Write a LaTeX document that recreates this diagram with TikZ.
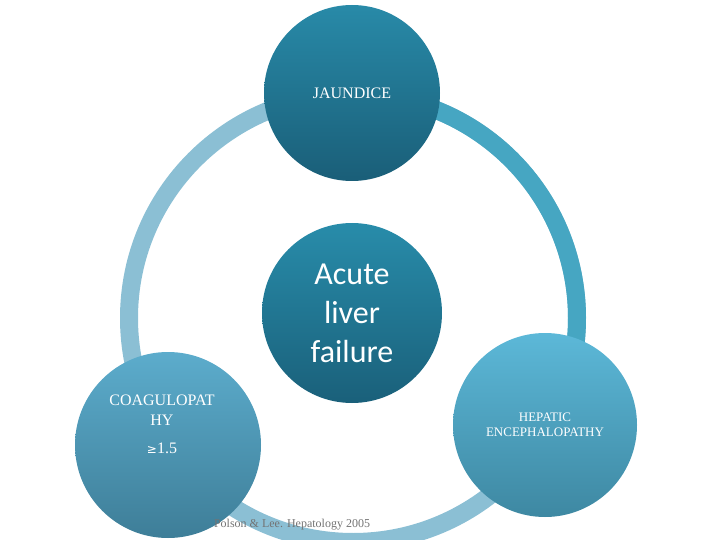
\documentclass[tikz,border=0pt]{standalone}
\usepackage{fontspec}
\setmainfont{Liberation Serif}
\newfontfamily\sansf{Carlito}
\newfontfamily\symf{DejaVu Sans}
\definecolor{ringl}{HTML}{8BBFD4}
\definecolor{ringt}{HTML}{46A6C2}
\begin{document}
\begin{tikzpicture}[x=1pt,y=-1pt,
  bub/.style={circle,minimum size=#1,inner sep=0pt,text=white,align=center}]
\useasboundingbox (0,0) rectangle (720,540);
\draw[ringl,line width=18] (353,318) circle[radius=224];
\draw[ringt,line width=18] (353,318) ++(-80:224) arc[start angle=-80,end angle=25,radius=224];
\node[bub=176pt,top color={rgb,255:red,40;green,138;blue,168},bottom color={rgb,255:red,26;green,94;blue,120},font=\fontsize{16}{20}\selectfont] (top) at (352,93) {JAUNDICE};
\node[bub=180pt,top color={rgb,255:red,40;green,140;blue,170},bottom color={rgb,255:red,26;green,96;blue,122},font=\sansf\fontsize{32}{39}\selectfont] (mid) at (352,313) {Acute\\liver\\failure};
\node[bub=186pt,top color={rgb,255:red,92;green,172;blue,204},bottom color={rgb,255:red,62;green,126;blue,152}] (left) at (168,445) {};
\node[text=white,align=center,font=\fontsize{16}{20}\selectfont] at (162,424) {COAGULOPAT\\HY\\[8pt]{\symf\fontsize{12}{14}\selectfont ≥}1.5};
\node[bub=184pt,top color={rgb,255:red,92;green,184;blue,216},bottom color={rgb,255:red,62;green,136;blue,162},font=\fontsize{13}{15}\selectfont] (right) at (545,425) {HEPATIC\\ENCEPHALOPATHY};
\node[text=gray!90!black,font=\fontsize{12}{14}\selectfont] (cite) at (292,525) {Polson \& Lee. Hepatology 2005};
\end{tikzpicture}
\end{document}
